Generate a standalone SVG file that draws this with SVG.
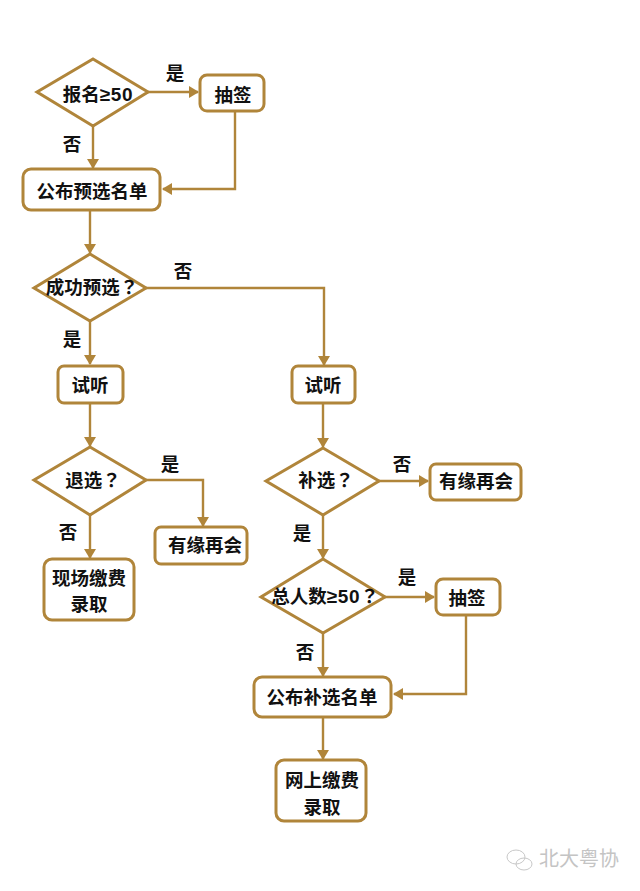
<svg xmlns="http://www.w3.org/2000/svg" width="640" height="891" viewBox="0 0 640 891">
<style>
.s{fill:#fff;stroke:#b0853a;stroke-width:3}
.c{fill:none;stroke:#b0853a;stroke-width:2.4}
text{font-family:"Noto Sans CJK SC","Liberation Sans",sans-serif;font-weight:700;font-size:18.5px;fill:#111;text-anchor:middle}
.l{font-family:"Liberation Sans",sans-serif;font-size:19px;letter-spacing:.6px}
.q{font-family:"Noto Sans CJK TC",sans-serif}
.w{fill:#c4c4c4;font-weight:400;font-size:20px}
.k{fill:none;stroke:#c8c8c8;stroke-width:1}
</style>
<defs><marker id="a" markerUnits="userSpaceOnUse" markerWidth="11" markerHeight="12" refX="9" refY="6" orient="auto"><path d="M0 0L10 6L0 12z" fill="#b0853a"/></marker></defs>
<rect width="640" height="891" fill="#fff"/>
<g id="connectors">
<path class="c" d="M148 92H198" marker-end="url(#a)"/>
<path class="c" d="M93 126V168" marker-end="url(#a)"/>
<path class="c" d="M235 112V189H163" marker-end="url(#a)"/>
<path class="c" d="M90 211V253" marker-end="url(#a)"/>
<path class="c" d="M146 288H324V365" marker-end="url(#a)"/>
<path class="c" d="M90 321V364" marker-end="url(#a)"/>
<path class="c" d="M90 403V446" marker-end="url(#a)"/>
<path class="c" d="M146 480H203V526" marker-end="url(#a)"/>
<path class="c" d="M90 515V558" marker-end="url(#a)"/>
<path class="c" d="M323 404V447" marker-end="url(#a)"/>
<path class="c" d="M379 481H428" marker-end="url(#a)"/>
<path class="c" d="M323 515V558" marker-end="url(#a)"/>
<path class="c" d="M385 597H434" marker-end="url(#a)"/>
<path class="c" d="M323 633V676" marker-end="url(#a)"/>
<path class="c" d="M466 616V694H394" marker-end="url(#a)"/>
<path class="c" d="M323 717V759" marker-end="url(#a)"/>
</g>
<g id="n1"><path class="s" d="M93 59L148 92L93 126L37 92Z"/><text x="98" y="101">报名<tspan class="l">≥50</tspan></text></g>
<g id="n2"><rect class="s" x="200" y="75" width="64" height="36" rx="7"/><text x="233" y="102">抽签</text></g>
<g id="n3"><rect class="s" x="23" y="169" width="137" height="41" rx="8"/><text x="92" y="198">公布预选名单</text></g>
<g id="n4"><path class="s" d="M90 254L146 288L90 321L34 288Z"/><text x="92" y="294">成功预选<tspan class="q">？</tspan></text></g>
<g id="n5"><rect class="s" x="58" y="366" width="65" height="37" rx="6"/><text x="90" y="392">试听</text></g>
<g id="n6"><path class="s" d="M90 447L146 480L90 515L34 480Z"/><text x="93" y="487">退选<tspan class="q">？</tspan></text></g>
<g id="n7"><rect class="s" x="155" y="527" width="92" height="37" rx="6"/><text x="205" y="552">有缘再会</text></g>
<g id="n8"><rect class="s" x="44" y="559" width="90" height="61" rx="8"/><text x="89" y="585">现场缴费</text><text x="89" y="611">录取</text></g>
<g id="n9"><rect class="s" x="292" y="366" width="63" height="37" rx="6"/><text x="323" y="392">试听</text></g>
<g id="n10"><path class="s" d="M323 448L379 481L323 515L266 481Z"/><text x="326" y="487">补选<tspan class="q">？</tspan></text></g>
<g id="n11"><rect class="s" x="430" y="464" width="91" height="36" rx="6"/><text x="476" y="488">有缘再会</text></g>
<g id="n12"><path class="s" d="M323 559L385 597L323 633L261 597Z"/><text x="325" y="603">总人数<tspan class="l">≥50</tspan><tspan class="q">？</tspan></text></g>
<g id="n13"><rect class="s" x="436" y="579" width="64" height="36" rx="7"/><text x="467" y="605">抽签</text></g>
<g id="n14"><rect class="s" x="254" y="677" width="137" height="40" rx="8"/><text x="322" y="704">公布补选名单</text></g>
<g id="n15"><rect class="s" x="276" y="760" width="90" height="61" rx="8"/><text x="322" y="787">网上缴费</text><text x="322" y="814">录取</text></g>
<g id="labels">
<text x="175" y="80">是</text><text x="72" y="151">否</text>
<text x="183" y="278">否</text><text x="72" y="346">是</text>
<text x="170" y="471">是</text><text x="68" y="539">否</text>
<text x="402" y="471">否</text><text x="302" y="540">是</text>
<text x="407" y="584">是</text><text x="305" y="659">否</text>
</g>
<g id="watermark"><ellipse class="k" cx="516" cy="857" rx="9" ry="7"/><ellipse class="k" cx="524" cy="864" rx="8" ry="6"/><text class="w" x="579" y="866">北大粤协</text></g>
</svg>
